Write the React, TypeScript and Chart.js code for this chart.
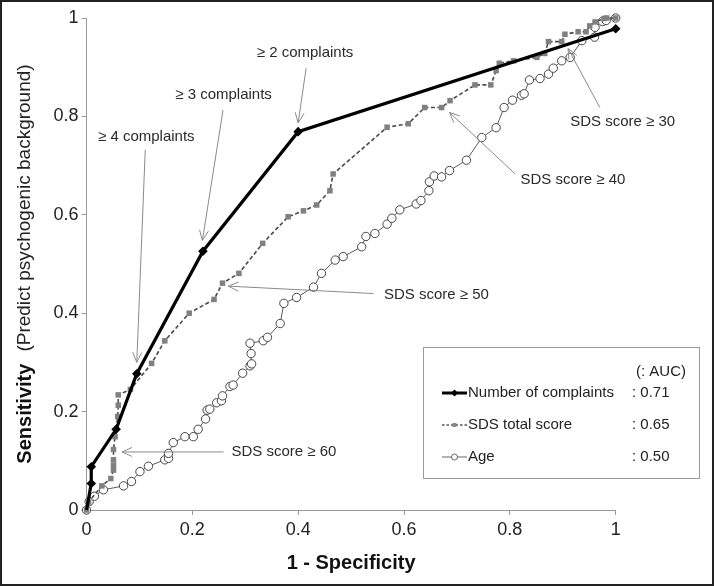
import React, { useEffect, useRef } from "react";
import { Chart, registerables } from "chart.js";

Chart.register(...registerables);

// ---------------- data ----------------
const complaintsX = [0, 0.009, 0.009, 0.056, 0.095, 0.22, 0.4, 1.0];
const complaintsY = [0, 0.054, 0.088, 0.164, 0.277, 0.526, 0.769, 0.978];

const sdsX = [
  0, 0.004, 0.029, 0.046, 0.051, 0.051, 0.051, 0.051, 0.054, 0.059, 0.06, 0.06, 0.083, 0.123,
  0.148, 0.194, 0.241, 0.257, 0.288, 0.333, 0.381, 0.41, 0.435, 0.46, 0.466, 0.568, 0.608,
  0.639, 0.671, 0.687, 0.734, 0.764, 0.774, 0.78, 0.807, 0.851, 0.866, 0.873, 0.898, 0.904,
  0.929, 0.944, 0.951, 0.961, 0.978, 0.983, 1.0,
];
const sdsY = [
  0, 0.016, 0.049, 0.064, 0.081, 0.091, 0.102, 0.123, 0.149, 0.19, 0.213, 0.234, 0.245, 0.298,
  0.344, 0.4, 0.428, 0.461, 0.481, 0.542, 0.596, 0.608, 0.62, 0.649, 0.683, 0.778, 0.785,
  0.818, 0.818, 0.832, 0.864, 0.864, 0.893, 0.908, 0.913, 0.92, 0.928, 0.952, 0.952, 0.967,
  0.972, 0.972, 0.984, 0.992, 0.999, 1.0, 1.0,
];

const ageX = [
  0, 0.005, 0.015, 0.032, 0.07, 0.085, 0.101, 0.117, 0.148, 0.155, 0.155, 0.164, 0.186, 0.202,
  0.211, 0.225, 0.228, 0.233, 0.246, 0.255, 0.257, 0.271, 0.277, 0.295, 0.309, 0.312, 0.311,
  0.309, 0.334, 0.342, 0.366, 0.373, 0.397, 0.429, 0.444, 0.47, 0.485, 0.52, 0.528, 0.545,
  0.568, 0.577, 0.592, 0.623, 0.632, 0.647, 0.648, 0.657, 0.671, 0.686, 0.718, 0.747, 0.774,
  0.789, 0.805, 0.822, 0.827, 0.837, 0.857, 0.873, 0.882, 0.898, 0.914, 0.936, 0.96, 0.961,
  0.975, 0.982, 1.0,
];
const ageY = [
  0, 0.017, 0.028, 0.041, 0.049, 0.058, 0.078, 0.089, 0.102, 0.105, 0.115, 0.137, 0.149, 0.149,
  0.164, 0.185, 0.203, 0.205, 0.218, 0.222, 0.232, 0.251, 0.254, 0.278, 0.293, 0.297, 0.318,
  0.339, 0.344, 0.351, 0.379, 0.42, 0.432, 0.453, 0.481, 0.508, 0.515, 0.535, 0.556, 0.562,
  0.581, 0.593, 0.61, 0.622, 0.629, 0.649, 0.667, 0.679, 0.677, 0.69, 0.711, 0.757, 0.777,
  0.818, 0.833, 0.843, 0.846, 0.874, 0.877, 0.886, 0.898, 0.913, 0.92, 0.954, 0.961, 0.981,
  0.993, 0.995, 1.0,
];

const seriesNames = ["Number of complaints", "SDS total score", "Age"];
const aucLabels = [": 0.71", ": 0.65", ": 0.50"];
const aucHeader = "(: AUC)";
const tickValues = [0, 0.2, 0.4, 0.6, 0.8, 1];
const tickLabels = ["0", "0.2", "0.4", "0.6", "0.8", "1"];
const xTitle = "1 - Specificity";
const yTitleBold = "Sensitivity";
const yTitleNormal = "(Predict psychogenic background)";

const annotationTexts = [
  "≥ 2 complaints",
  "≥ 3 complaints",
  "≥ 4 complaints",
  "SDS score ≥ 30",
  "SDS score ≥ 40",
  "SDS score ≥ 50",
  "SDS score ≥ 60",
];
// text anchor and arrow (from -> to), in axis units
const annotationPlacement = [
  { tx: 0.413, ty: 0.929, align: "center", x1: 0.415, y1: 0.898, x2: 0.4, y2: 0.787 },
  { tx: 0.259, ty: 0.843, align: "center", x1: 0.258, y1: 0.813, x2: 0.219, y2: 0.548 },
  { tx: 0.113, ty: 0.759, align: "center", x1: 0.111, y1: 0.732, x2: 0.095, y2: 0.3 },
  { tx: 0.914, ty: 0.789, align: "left", x1: 0.97, y1: 0.818, x2: 0.91, y2: 0.938 },
  { tx: 0.82, ty: 0.671, align: "left", x1: 0.81, y1: 0.683, x2: 0.686, y2: 0.808 },
  { tx: 0.562, ty: 0.438, align: "left", x1: 0.542, y1: 0.44, x2: 0.268, y2: 0.455 },
  { tx: 0.274, ty: 0.118, align: "left", x1: 0.259, y1: 0.118, x2: 0.067, y2: 0.118 },
];

const FONT = "Arial, 'Liberation Sans', sans-serif";

function zip(xs: number[], ys: number[]) {
  return xs.map((x, i) => ({ x, y: ys[i] }));
}

function drawArrow(ctx: CanvasRenderingContext2D, x1: number, y1: number, x2: number, y2: number) {
  ctx.save();
  ctx.strokeStyle = "#8a8a8a";
  ctx.lineWidth = 1;
  ctx.beginPath();
  ctx.moveTo(x1, y1);
  ctx.lineTo(x2, y2);
  ctx.stroke();
  const a = Math.atan2(y2 - y1, x2 - x1);
  const L = 11;
  const w = 0.42;
  ctx.beginPath();
  ctx.moveTo(x2 - L * Math.cos(a - w), y2 - L * Math.sin(a - w));
  ctx.lineTo(x2, y2);
  ctx.lineTo(x2 - L * Math.cos(a + w), y2 - L * Math.sin(a + w));
  ctx.stroke();
  ctx.restore();
}

const decorPlugin = {
  id: "decor",
  afterDatasetsDraw(chart: any) {
    const ctx: CanvasRenderingContext2D = chart.ctx;
    const xs = chart.scales.x;
    const ys = chart.scales.y;
    ctx.save();
    annotationPlacement.forEach((p, i) => {
      drawArrow(
        ctx,
        xs.getPixelForValue(p.x1),
        ys.getPixelForValue(p.y1),
        xs.getPixelForValue(p.x2),
        ys.getPixelForValue(p.y2)
      );
      ctx.font = `15px ${FONT}`;
      ctx.fillStyle = "#2a2a2a";
      ctx.textAlign = p.align as CanvasTextAlign;
      ctx.textBaseline = "middle";
      ctx.fillText(annotationTexts[i], xs.getPixelForValue(p.tx), ys.getPixelForValue(p.ty));
    });
    ctx.restore();
  },
  afterDraw(chart: any) {
    const ctx: CanvasRenderingContext2D = chart.ctx;
    const area = chart.chartArea;
    ctx.save();

    // x title
    ctx.font = `bold 20px ${FONT}`;
    ctx.fillStyle = "#111";
    ctx.textAlign = "center";
    ctx.textBaseline = "middle";
    ctx.fillText(xTitle, (area.left + area.right) / 2, 563);

    // y title (mixed weight)
    ctx.save();
    ctx.translate(25, (area.top + area.bottom) / 2);
    ctx.rotate(-Math.PI / 2);
    const boldFont = `bold 20px ${FONT}`;
    const normFont = `19px ${FONT}`;
    ctx.font = boldFont;
    const wb = ctx.measureText(yTitleBold).width;
    ctx.font = normFont;
    const gap = 12;
    const wn = ctx.measureText(yTitleNormal).width;
    const total = wb + gap + wn;
    ctx.textAlign = "left";
    ctx.textBaseline = "middle";
    ctx.font = boldFont;
    ctx.fillStyle = "#111";
    ctx.fillText(yTitleBold, -total / 2, 0);
    ctx.font = normFont;
    ctx.fillStyle = "#222";
    ctx.fillText(yTitleNormal, -total / 2 + wb + gap, 0);
    ctx.restore();

    // legend box
    const bx = 423, by = 347, bw = 276, bh = 131;
    ctx.fillStyle = "#fff";
    ctx.fillRect(bx, by, bw, bh);
    ctx.strokeStyle = "#9a9a9a";
    ctx.lineWidth = 1;
    ctx.strokeRect(bx + 0.5, by + 0.5, bw, bh);

    ctx.font = `15px ${FONT}`;
    ctx.fillStyle = "#222";
    ctx.textBaseline = "middle";
    ctx.textAlign = "left";
    ctx.fillText(aucHeader, 636, 372);
    const rowY = [393, 425, 457];
    const sx1 = 442, sx2 = 467, sxm = 454.5;
    seriesNames.forEach((name, i) => {
      const y = rowY[i];
      ctx.save();
      if (i === 0) {
        ctx.strokeStyle = "#000";
        ctx.lineWidth = 3;
        ctx.beginPath();
        ctx.moveTo(sx1, y);
        ctx.lineTo(sx2, y);
        ctx.stroke();
        ctx.fillStyle = "#000";
        ctx.beginPath();
        ctx.moveTo(sxm, y - 3.5);
        ctx.lineTo(sxm + 3.5, y);
        ctx.lineTo(sxm, y + 3.5);
        ctx.lineTo(sxm - 3.5, y);
        ctx.closePath();
        ctx.fill();
      } else if (i === 1) {
        ctx.strokeStyle = "#555";
        ctx.lineWidth = 1.3;
        ctx.setLineDash([2.5, 2]);
        ctx.beginPath();
        ctx.moveTo(sx1, y);
        ctx.lineTo(sx2, y);
        ctx.stroke();
        ctx.setLineDash([]);
        ctx.fillStyle = "#888";
        ctx.fillRect(sxm - 2, y - 2, 4, 4);
      } else {
        ctx.strokeStyle = "#666";
        ctx.lineWidth = 1;
        ctx.beginPath();
        ctx.moveTo(sx1, y);
        ctx.lineTo(sx2, y);
        ctx.stroke();
        ctx.fillStyle = "#fff";
        ctx.beginPath();
        ctx.arc(sxm, y, 3, 0, Math.PI * 2);
        ctx.fill();
        ctx.stroke();
      }
      ctx.restore();
      ctx.font = `15px ${FONT}`;
      ctx.fillStyle = "#222";
      ctx.textAlign = "left";
      ctx.textBaseline = "middle";
      ctx.fillText(name, 468, y);
      ctx.fillText(aucLabels[i], 632, y);
    });

    // outer frame
    ctx.strokeStyle = "#222";
    ctx.lineWidth = 2;
    ctx.strokeRect(1, 1, chart.width - 2, chart.height - 2);
    ctx.restore();
  },
};

export default function App() {
  const canvasRef = useRef<HTMLCanvasElement | null>(null);

  useEffect(() => {
    document.body.style.margin = "0";
    const canvas = canvasRef.current;
    if (!canvas) return;

    const tickOpts = {
      font: { size: 18, family: FONT },
      color: "#222",
      maxRotation: 0,
      autoSkip: false,
      callback: (v: any) => {
        const idx = tickValues.findIndex((t) => Math.abs(t - Number(v)) < 1e-6);
        return idx >= 0 ? tickLabels[idx] : "";
      },
    };

    const chart = new Chart(canvas, {
      type: "scatter",
      data: {
        datasets: [
          {
            label: seriesNames[0],
            data: zip(complaintsX, complaintsY),
            showLine: true,
            borderColor: "#000",
            backgroundColor: "#000",
            borderWidth: 3.2,
            pointStyle: "rectRot",
            pointRadius: complaintsX.map((_, i) => (i === 0 ? 0 : 4.8)),
            pointBorderWidth: 0,
            pointBackgroundColor: "#000",
            clip: false,
          } as any,
          {
            label: seriesNames[1],
            data: zip(sdsX, sdsY),
            showLine: true,
            borderColor: "#4a4a4a",
            borderWidth: 1.6,
            borderDash: [4, 2.5],
            pointStyle: "rect",
            pointRadius: 3.9,
            pointBorderWidth: 0,
            pointBackgroundColor: "#808080",
            backgroundColor: "#808080",
            clip: false,
          } as any,
          {
            label: seriesNames[2],
            data: zip(ageX, ageY),
            showLine: true,
            borderColor: "#5a5a5a",
            borderWidth: 1,
            pointStyle: "circle",
            pointRadius: 4.2,
            pointBorderWidth: 1,
            pointBorderColor: "#444",
            pointBackgroundColor: "#fff",
            backgroundColor: "#fff",
            clip: false,
          } as any,
        ],
      },
      options: {
        animation: false,
        responsive: false,
        devicePixelRatio: 1,
        layout: { padding: { left: 0, top: 18, right: 98.3, bottom: 0 } },
        plugins: { legend: { display: false }, tooltip: { enabled: false } },
        scales: {
          x: {
            type: "linear",
            min: 0,
            max: 1,
            afterBuildTicks: (s: any) => {
              s.ticks = tickValues.map((v) => ({ value: v }));
            },
            afterFit: (s: any) => {
              s.height = 76;
            },
            ticks: { ...tickOpts, padding: 4 },
            grid: { display: true, drawOnChartArea: false, drawTicks: true, tickLength: 5, color: "#999" },
            border: { display: true, color: "#999", width: 1 },
          },
          y: {
            type: "linear",
            min: 0,
            max: 1,
            afterBuildTicks: (s: any) => {
              s.ticks = tickValues.map((v) => ({ value: v }));
            },
            afterFit: (s: any) => {
              s.width = 86.5;
            },
            ticks: { ...tickOpts, padding: 3 },
            grid: { display: true, drawOnChartArea: false, drawTicks: true, tickLength: 5, color: "#999" },
            border: { display: true, color: "#999", width: 1 },
          },
        },
      } as any,
      plugins: [decorPlugin],
    });

    return () => chart.destroy();
  }, []);

  return (
    <div style={{ width: 714, height: 586, position: "relative", background: "#fff" }}>
      <canvas ref={canvasRef} width={714} height={586} style={{ width: 714, height: 586, display: "block" }} />
    </div>
  );
}
